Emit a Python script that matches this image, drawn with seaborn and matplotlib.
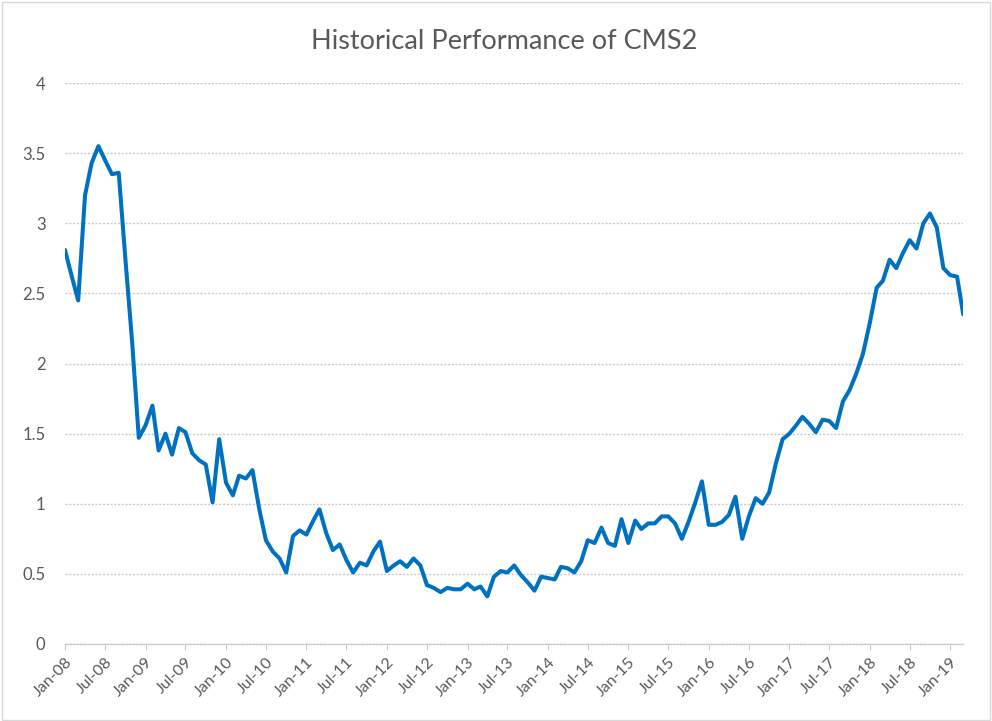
import pandas as pd
import matplotlib
matplotlib.use("Agg")
import matplotlib.pyplot as plt
import matplotlib.dates as mdates
from matplotlib.patches import Rectangle
import seaborn as sns

# Monthly CMS2 values, Jan-08 .. Mar-19
START_MONTH = "2008-01-01"
cms2_values = [
    2.81, 2.62, 2.45, 3.20, 3.43, 3.55, 3.45, 3.35, 3.36, 2.75, 2.15, 1.47,   # 2008
    1.56, 1.70, 1.38, 1.50, 1.35, 1.54, 1.51, 1.36, 1.31, 1.28, 1.01, 1.46,   # 2009
    1.15, 1.06, 1.20, 1.18, 1.24, 0.96, 0.74, 0.66, 0.61, 0.51, 0.77, 0.81,   # 2010
    0.78, 0.88, 0.96, 0.79, 0.67, 0.71, 0.60, 0.51, 0.58, 0.56, 0.66, 0.73,   # 2011
    0.52, 0.56, 0.59, 0.55, 0.61, 0.56, 0.42, 0.40, 0.37, 0.40, 0.39, 0.39,   # 2012
    0.43, 0.39, 0.41, 0.34, 0.48, 0.52, 0.51, 0.56, 0.49, 0.44, 0.38, 0.48,   # 2013
    0.47, 0.46, 0.55, 0.54, 0.51, 0.59, 0.74, 0.72, 0.83, 0.72, 0.70, 0.89,   # 2014
    0.72, 0.88, 0.82, 0.86, 0.86, 0.91, 0.91, 0.86, 0.75, 0.87, 1.01, 1.16,   # 2015
    0.85, 0.85, 0.87, 0.92, 1.05, 0.75, 0.91, 1.04, 1.00, 1.08, 1.29, 1.46,   # 2016
    1.50, 1.56, 1.62, 1.57, 1.51, 1.60, 1.59, 1.54, 1.73, 1.81, 1.93, 2.07,   # 2017
    2.29, 2.54, 2.59, 2.74, 2.68, 2.79, 2.88, 2.82, 3.00, 3.07, 2.97, 2.68,   # 2018
    2.63, 2.62, 2.35,                                                         # 2019
]
y_ticks = [0, 0.5, 1, 1.5, 2, 2.5, 3, 3.5, 4]
y_tick_labels = ["0", "0.5", "1", "1.5", "2", "2.5", "3", "3.5", "4"]

TITLE = "Historical Performance of CMS2"
LINE_COLOR = "#0070C0"
TEXT_COLOR = "#595959"
GRID_COLOR = "#c9c9c9"

sns.set_theme(style="white")
plt.rcParams["font.family"] = ["Lato", "DejaVu Sans"]

df = pd.DataFrame({
    "month": pd.date_range(START_MONTH, periods=len(cms2_values), freq="MS"),
    "value": cms2_values,
})

fig = plt.figure(figsize=(9.92, 7.21), dpi=100)
ax = fig.add_axes([0.0655, 0.1068, 0.9055, 0.778])

sns.lineplot(data=df, x="month", y="value", ax=ax, color=LINE_COLOR, linewidth=2.9)

ax.set_ylim(0, 4)
ax.set_xlim(df["month"].iloc[0], df["month"].iloc[-1])
ax.set_yticks(y_ticks)
ax.set_yticklabels(y_tick_labels)

ax.xaxis.set_major_locator(mdates.MonthLocator(bymonth=[1, 7]))
ax.xaxis.set_major_formatter(mdates.DateFormatter("%b-%y"))

ax.grid(axis="y", color=GRID_COLOR, linestyle=(0, (1.5, 1.2)), linewidth=1.0)
ax.grid(axis="x", visible=False)
for side in ["top", "right", "left"]:
    ax.spines[side].set_visible(False)
ax.spines["bottom"].set_color(GRID_COLOR)
ax.spines["bottom"].set_linestyle((0, (1.5, 1.2)))
ax.spines["bottom"].set_linewidth(1.0)

ax.tick_params(axis="y", length=0, pad=14, labelsize=12, labelcolor=TEXT_COLOR)
ax.tick_params(axis="x", bottom=True, length=4, width=0.8, color=GRID_COLOR,
               pad=4, labelsize=11.5, labelcolor=TEXT_COLOR)
for lbl in ax.get_xticklabels():
    lbl.set_rotation(45)
    lbl.set_ha("right")
    lbl.set_rotation_mode("anchor")

ax.set_xlabel("")
ax.set_ylabel("")

fig.text(0.508, 0.942, TITLE, ha="center", va="center", fontsize=19.5, color=TEXT_COLOR)

# light border round the chart area, like the spreadsheet chart frame
fig.patches.append(Rectangle((0.002, 0.002), 0.996, 0.995, transform=fig.transFigure,
                             fill=False, edgecolor="#d9d9d9", linewidth=1.0))

fig.savefig("out.png", dpi=100)
plt.close(fig)
